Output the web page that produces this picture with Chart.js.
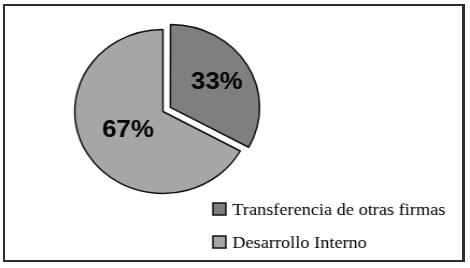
<!DOCTYPE html>
<html>
<head>
<meta charset="utf-8">
<script src="https://cdn.jsdelivr.net/npm/chart.js@4.4.0/dist/chart.umd.min.js"></script>
<style>
  html, body { margin: 0; padding: 0; background: #fff; }
  body { width: 470px; height: 268px; position: relative; overflow: hidden; }
  #frame { position: absolute; left: 3px; top: 4px; width: 462px; height: 258px; box-sizing: border-box;
           border: 2px solid #2e2e2e; border-right-width: 3px; }
  #pieChart { position: absolute; left: 0; top: 0; }
</style>
</head>
<body>
<div id="frame"></div>
<!-- the original picture is a little wider than tall, so the canvas is stretched -->
<canvas id="pieChart" width="437" height="268" style="width:470px;height:268px"></canvas>
<script>
var categories = ['Transferencia de otras firmas', 'Desarrollo Interno'];
var shares = [33, 67];
var sliceColors = ['#7f7f7f', '#a6a6a6'];

// percentage text inside each slice
var pieLabels = {
    id: 'pieLabels',
    afterDatasetsDraw: function(chart, args, opts) {
        var ctx = chart.ctx;
        var meta = chart.getDatasetMeta(0);
        var values = chart.data.datasets[0].data;
        ctx.save();
        ctx.font = opts.font;
        ctx.fillStyle = '#000';
        ctx.textAlign = 'center';
        ctx.textBaseline = 'middle';
        meta.data.forEach(function(arc, i) {
            var mid = (arc.startAngle + arc.endAngle) / 2;
            var circ = arc.endAngle - arc.startAngle;
            // same shift the arc element uses for its offset
            var shift = (arc.options.offset || 0) / 4 * (2 - Math.sin(Math.min(Math.PI, circ)));
            var d = shift + arc.outerRadius * opts.position[i];
            ctx.fillText(values[i] + '%', arc.x + Math.cos(mid) * d, arc.y + Math.sin(mid) * d);
        });
        ctx.restore();
    }
};

// legend in the lower right corner
var legendBox = {
    id: 'legendBox',
    afterDraw: function(chart, args, opts) {
        var ctx = chart.ctx;
        var ds = chart.data.datasets[0];
        ctx.save();
        ctx.font = opts.font;
        ctx.textAlign = 'left';
        ctx.textBaseline = 'alphabetic';
        chart.data.labels.forEach(function(label, i) {
            var top = opts.top + i * opts.rowGap;
            ctx.fillStyle = ds.backgroundColor[i];
            ctx.fillRect(opts.left, top, opts.box, opts.box);
            ctx.lineWidth = 1.5;
            ctx.strokeStyle = '#111';
            ctx.strokeRect(opts.left, top, opts.box, opts.box);
            ctx.fillStyle = '#000';
            ctx.fillText(label, opts.left + opts.box + opts.gap, top + opts.baseline);
        });
        ctx.restore();
    }
};

var ctx_pie = document.getElementById('pieChart').getContext('2d');
var chart_pie = new Chart(ctx_pie, {
    type: 'pie',
    data: {
        labels: categories,
        datasets: [{
            data: shares,
            backgroundColor: sliceColors,
            borderColor: '#111',
            borderWidth: 1.5,
            offset: [32, 0]
        }]
    },
    options: {
        responsive: false,
        animation: false,
        radius: 82,
        layout: { padding: { left: 0, top: 0, right: 134, bottom: 45 } },
        plugins: {
            legend: { display: false },
            tooltip: { enabled: false },
            pieLabels: { font: 'bold 24px "Liberation Sans", Arial, sans-serif', position: [0.6, 0.46] },
            legendBox: {
                font: '17px "Liberation Serif", "Times New Roman", serif',
                left: 198, top: 203, box: 12, gap: 6, rowGap: 33, baseline: 12
            }
        }
    },
    plugins: [pieLabels, legendBox]
});
</script>
</body>
</html>
